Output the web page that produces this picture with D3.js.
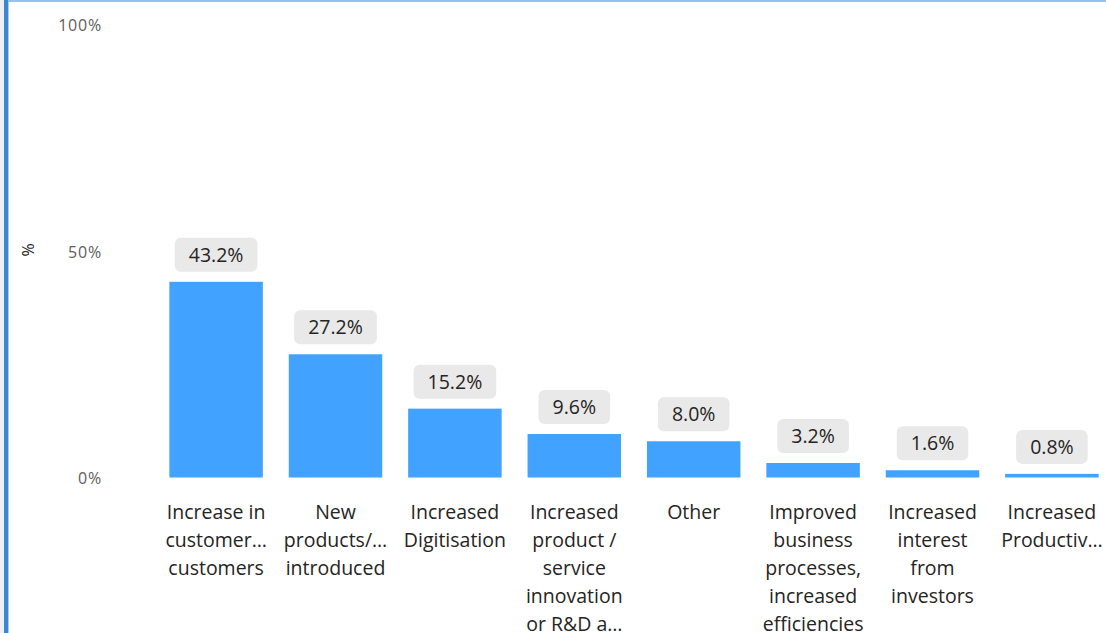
<!DOCTYPE html>
<html>
<head>
<meta charset="utf-8">
<script src="https://cdn.jsdelivr.net/npm/d3@7"></script>
<style>
  html, body { margin: 0; padding: 0; background: #ffffff; overflow: hidden; }
  svg { display: block; }
  text { font-family: "Open Sans", "Noto Sans", sans-serif; }
</style>
</head>
<body>
<svg id="chart" width="1106" height="633"></svg>
<script>
// Category labels, already wrapped into lines
const categories = [
  ["Increase in", "customer…", "customers"],
  ["New", "products/…", "introduced"],
  ["Increased", "Digitisation"],
  ["Increased", "product /", "service", "innovation", "or R&D a…"],
  ["Other"],
  ["Improved", "business", "processes,", "increased", "efficiencies"],
  ["Increased", "interest", "from", "investors"],
  ["Increased", "Productiv…"]
];
const values = [43.2, 27.2, 15.2, 9.6, 8.0, 3.2, 1.6, 0.8];
const yTicks = [0, 50, 100];

const svg = d3.select("#chart");
const W = 1106, H = 633;

// Frame: grey strip, blue left rule, light blue top rule
svg.append("rect").attr("x", 0).attr("y", 0).attr("width", 4).attr("height", H).attr("fill", "#eef0f4");
svg.append("rect").attr("x", 4).attr("y", 0).attr("width", 4).attr("height", H).attr("fill", "#3f86cc");
svg.append("rect").attr("x", 8).attr("y", 0).attr("width", 1).attr("height", H).attr("fill", "#a9cdf0");
svg.append("rect").attr("x", 8).attr("y", 0).attr("width", W - 8).attr("height", 2).attr("fill", "#94c2ee");

const plot = { left: 156.4, right: 1111.6, top: 24.5, bottom: 477.5 };

const idx = categories.map((d, i) => i);
const x = d3.scaleBand()
  .domain(idx)
  .range([plot.left, plot.right])
  .paddingInner(0.217)
  .paddingOuter(0.1085);

const y = d3.scaleLinear().domain([0, 100]).range([plot.bottom, plot.top]);

// Y axis tick labels (no line, no tick marks)
const yAxis = d3.axisLeft(y)
  .tickValues(yTicks)
  .tickFormat(d => d + "%")
  .tickSize(0)
  .tickPadding(0);
const gy = svg.append("g").attr("transform", "translate(102,1)").call(yAxis);
gy.select(".domain").remove();
gy.selectAll("text")
  .attr("fill", "#605e5c")
  .style("font-size", "16px")
  .style("letter-spacing", "0.8px")
  .style("font-family", "\"Open Sans\", \"Noto Sans\", sans-serif");

// Y axis title
svg.append("text")
  .attr("transform", "translate(34,250) rotate(-90)")
  .attr("text-anchor", "middle")
  .attr("fill", "#252423")
  .style("font-size", "16px")
  .text("%");

// Bars
svg.append("g").selectAll("rect")
  .data(values)
  .join("rect")
  .attr("x", (d, i) => x(i))
  .attr("width", x.bandwidth())
  .attr("y", d => y(d))
  .attr("height", d => y(0) - y(d))
  .attr("fill", "#41a3ff");

// Value labels on rounded grey backgrounds
const lab = svg.append("g").selectAll("g")
  .data(values)
  .join("g")
  .attr("transform", (d, i) => `translate(${x(i) + x.bandwidth() / 2},${y(d) - 10})`);
lab.append("text")
  .attr("text-anchor", "middle")
  .attr("y", -17)
  .attr("dy", "0.36em")
  .attr("fill", "#252423")
  .style("font-size", "19.5px")
  .text(d => d.toFixed(1) + "%");
lab.each(function () {
  const g = d3.select(this);
  const bb = g.select("text").node().getBBox();
  g.insert("rect", "text")
    .attr("x", bb.x - 14)
    .attr("y", -34)
    .attr("width", bb.width + 28)
    .attr("height", 34)
    .attr("rx", 6)
    .attr("fill", "#e9e9e9");
});

// Category labels
const cat = svg.append("g").selectAll("text")
  .data(categories)
  .join("text")
  .attr("text-anchor", "middle")
  .attr("fill", "#252423")
  .style("font-size", "19.5px")
  .attr("transform", (d, i) => `translate(${x(i) + x.bandwidth() / 2},519)`);
cat.selectAll("tspan")
  .data(d => d)
  .join("tspan")
  .attr("x", 0)
  .attr("y", (d, j) => j * 28)
  .text(d => d);
</script>
</body>
</html>
